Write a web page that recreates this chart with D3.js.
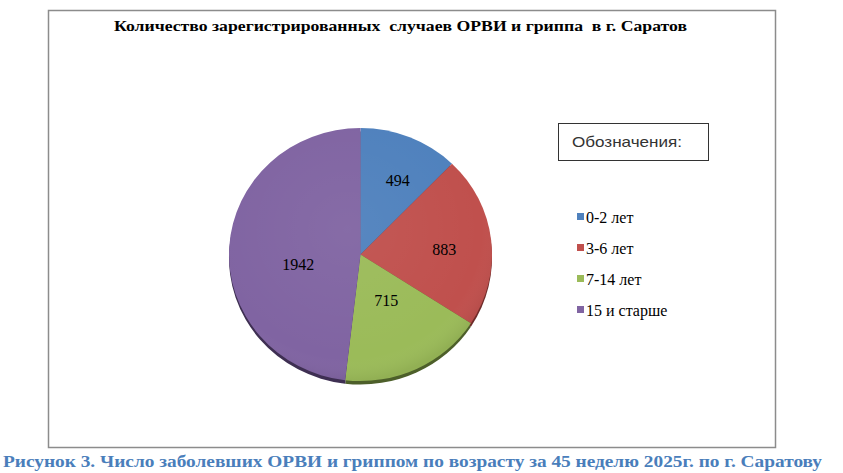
<!DOCTYPE html>
<html>
<head>
<meta charset="utf-8">
<script src="https://cdn.jsdelivr.net/npm/d3@7"></script>
<style>
  body { margin: 0; background: #fff; }
  svg { display: block; }
</style>
</head>
<body>
<script>
// data
var categories = ["0-2 лет", "3-6 лет", "7-14 лет", "15 и старше"];
var values = [494, 883, 715, 1942];
var colors = ["#4f81bd", "#c0504d", "#9bbb59", "#8064a2"];
var edgeColors = ["#2c4a70", "#6e2b29", "#4d5f2a", "#3e2f52"];
var title = "Количество зарегистрированных  случаев ОРВИ и гриппа  в г. Саратов";
var legendTitle = "Обозначения:";
var caption = "Рисунок 3. Число заболевших ОРВИ и гриппом по возрасту за 45 неделю 2025г. по г. Саратову";

var W = 843, H = 473;
var svg = d3.select("body").append("svg")
    .attr("width", W)
    .attr("height", H);

var defs = svg.append("defs");

// chart frame
svg.append("rect")
    .attr("x", 48.5).attr("y", 10.5)
    .attr("width", 727).attr("height", 437)
    .attr("fill", "#fff")
    .attr("stroke", "#8c8c8c")
    .attr("stroke-width", 1.5);

svg.append("text")
    .attr("x", 114).attr("y", 31)
    .attr("font-family", "Liberation Serif, serif")
    .attr("font-weight", "bold")
    .attr("font-size", 14)
    .attr("textLength", 573)
    .attr("lengthAdjust", "spacingAndGlyphs")
    .attr("xml:space", "preserve")
    .text(title);

// pie, slightly tilted like the office 3d pie
var cx = 360.5, cy = 254.5, r = 131.5, tilt = 0.962;
var pie = d3.pie().sort(null).value(function (d) { return d; });
var arc = d3.arc().innerRadius(0).outerRadius(r);
var arcs = pie(values);

// thin extruded edge under the face
svg.append("g")
    .attr("transform", "translate(" + cx + "," + (cy + 3.5) + ") scale(1," + tilt + ")")
    .selectAll("path")
    .data(arcs)
    .enter().append("path")
    .attr("d", arc)
    .attr("fill", function (d, i) { return edgeColors[i]; });

var g = svg.append("g")
    .attr("transform", "translate(" + cx + "," + cy + ") scale(1," + tilt + ")");

g.selectAll("path")
    .data(arcs)
    .enter().append("path")
    .attr("d", arc)
    .attr("fill", function (d, i) { return colors[i]; });

// subtle sheen
var grad = defs.append("radialGradient").attr("id", "sheen")
    .attr("cx", "45%").attr("cy", "40%").attr("r", "60%");
grad.append("stop").attr("offset", "0%").attr("stop-color", "#fff").attr("stop-opacity", 0.05);
grad.append("stop").attr("offset", "85%").attr("stop-color", "#fff").attr("stop-opacity", 0);
grad.append("stop").attr("offset", "100%").attr("stop-color", "#000").attr("stop-opacity", 0.06);
g.append("circle").attr("r", r).attr("fill", "url(#sheen)");

// value labels (best fit placement as in the picture)
var labelArc = d3.arc().innerRadius(r * 0.55).outerRadius(r * 0.55);
var labelOffsets = [[10, -7], [12, 3], [-5, -20], [10, 14]];
svg.append("g")
    .attr("transform", "translate(" + cx + "," + cy + ")")
    .selectAll("text")
    .data(arcs)
    .enter().append("text")
    .attr("transform", function (d, i) {
        var c = labelArc.centroid(d);
        return "translate(" + (c[0] + labelOffsets[i][0]) + "," + (c[1] + labelOffsets[i][1]) + ")";
    })
    .attr("text-anchor", "middle")
    .attr("dy", "0.35em")
    .attr("font-family", "Liberation Serif, serif")
    .attr("font-size", 16)
    .attr("fill", "#000")
    .text(function (d) { return d.data; });

// legend title box
svg.append("rect")
    .attr("x", 558.5).attr("y", 123.5)
    .attr("width", 150).attr("height", 37)
    .attr("fill", "#fff")
    .attr("stroke", "#333")
    .attr("stroke-width", 1);
svg.append("text")
    .attr("x", 572).attr("y", 147)
    .attr("font-family", "Liberation Sans, sans-serif")
    .attr("font-size", 15)
    .attr("fill", "#333")
    .attr("textLength", 110)
    .attr("lengthAdjust", "spacingAndGlyphs")
    .text(legendTitle);

var legendY = d3.scalePoint()
    .domain(categories)
    .range([217, 310]);

var items = svg.selectAll("g.leg")
    .data(categories)
    .enter().append("g")
    .attr("class", "leg")
    .attr("transform", function (d) { return "translate(577," + legendY(d) + ")"; });
items.append("rect")
    .attr("x", 0).attr("y", -4)
    .attr("width", 7).attr("height", 7)
    .attr("fill", function (d, i) { return colors[i]; });
items.append("text")
    .attr("x", 9).attr("y", 0)
    .attr("dy", "0.35em")
    .attr("font-family", "Liberation Serif, serif")
    .attr("font-size", 16)
    .attr("fill", "#000")
    .text(function (d) { return d; });

// caption under the chart
svg.append("text")
    .attr("x", 3).attr("y", 467)
    .attr("font-family", "Liberation Serif, serif")
    .attr("font-weight", "bold")
    .attr("font-size", 17)
    .attr("fill", "#4a7ebb")
    .attr("textLength", 819)
    .attr("lengthAdjust", "spacingAndGlyphs")
    .text(caption);
</script>
</body>
</html>
